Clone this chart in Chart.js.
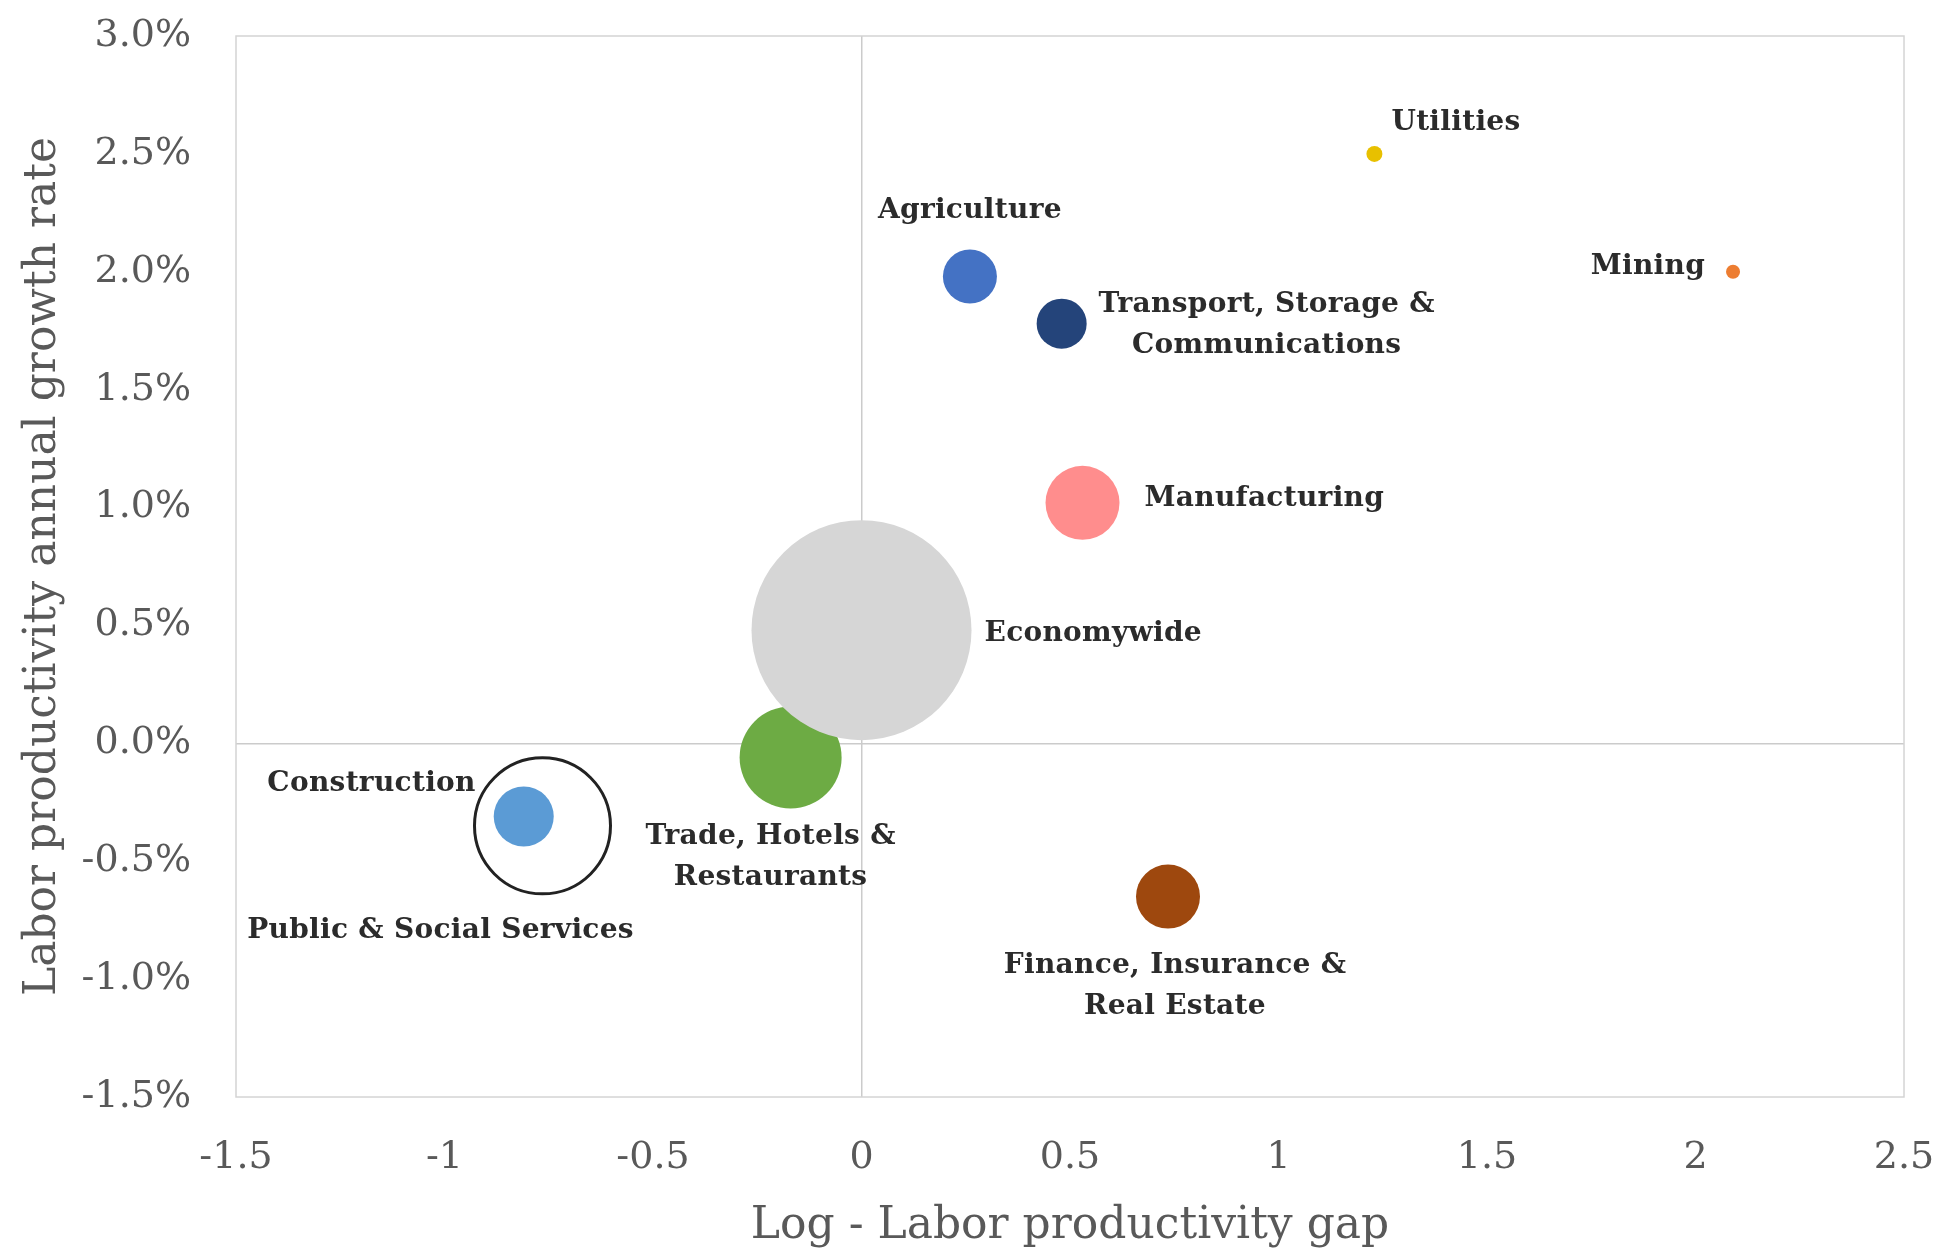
<!DOCTYPE html>
<html>
<head>
<meta charset="utf-8">
<title>Labor productivity by sector</title>
<script src="https://cdn.jsdelivr.net/npm/chart.js@4/dist/chart.umd.min.js"></script>
<style>
    body { margin: 0; background: #fff; }
    #wrap { width: 1937px; height: 1254px; position: relative; }
</style>
</head>
<body>
<div id="wrap"><canvas id="bubblechart"></canvas></div>
<script>
// sectors, drawn in this order (later ones sit on top)
let sectors = ["Agriculture", "Mining", "Utilities", "Manufacturing", "Trade, Hotels & Restaurants",
    "Economywide", "Transport, Storage & Communications", "Finance, Insurance & Real Estate",
    "Construction", "Public & Social Services"]
let gapValues = [0.26, 2.09, 1.23, 0.53, -0.17, 0.0, 0.48, 0.735, -0.81, -0.765]
let growthValues = [1.98, 2.0, 2.5, 1.02, -0.06, 0.48, 1.78, -0.65, -0.31, -0.35]
let bubbleSizes = [27, 7, 8, 37, 51, 110, 25, 32, 30, 68]

let xTicks = [-1.5, -1, -0.5, 0, 0.5, 1, 1.5, 2, 2.5]
let yTicks = [-1.5, -1.0, -0.5, 0.0, 0.5, 1.0, 1.5, 2.0, 2.5, 3.0]

let colors = ["#4472C4", "#ED7D31", "#E8C000", "#FF8D8D", "#6DAB44",
    "#D6D6D6", "#24447A", "#9E480E", "#5B9BD5", "rgba(0,0,0,0)"]

// label lines and where they sit relative to their bubble
let labelSpots = [
    {lines: ["Agriculture"], dx: 0, dy: -66, align: "center"},
    {lines: ["Mining"], dx: -28, dy: -5, align: "right"},
    {lines: ["Utilities"], dx: 17, dy: -31, align: "left"},
    {lines: ["Manufacturing"], dx: 62, dy: -4, align: "left"},
    {lines: ["Trade, Hotels &", "Restaurants"], dx: -20, dy: 79, align: "center"},
    {lines: ["Economywide"], dx: 123, dy: 4, align: "left"},
    {lines: ["Transport, Storage &", "Communications"], dx: 205, dy: -19, align: "center"},
    {lines: ["Finance, Insurance &", "Real Estate"], dx: 7, dy: 69, align: "center"},
    {lines: ["Construction"], dx: -48, dy: -33, align: "right"},
    {lines: ["Public & Social Services"], dx: -102, dy: 105, align: "center"}
]

let points = []
for (let i = 0; i < sectors.length; i++) {
    points.push({x: gapValues[i], y: growthValues[i], r: bubbleSizes[i]})
}

let tickColor = "#595959"
let zeroLine = "#CBCBCB"

const frameplugin = {
    id: "frame",
    beforeDatasetsDraw(chart) {
        let a = chart.chartArea
        let ctx = chart.ctx
        ctx.save()
        ctx.strokeStyle = "#D4D4D4"
        ctx.lineWidth = 1.5
        ctx.strokeRect(a.left, a.top, a.right - a.left, a.bottom - a.top)
        ctx.restore()
    }
}

const labelplugin = {
    id: "sectorlabels",
    afterDatasetsDraw(chart) {
        let ctx = chart.ctx
        let meta = chart.getDatasetMeta(0)
        ctx.save()
        ctx.font = "bold 28px 'DejaVu Serif'"
        ctx.letterSpacing = "0.3px"
        ctx.fillStyle = "#2B2B2B"
        ctx.textBaseline = "middle"
        for (let i = 0; i < labelSpots.length; i++) {
            let pt = meta.data[i]
            let spot = labelSpots[i]
            ctx.textAlign = spot.align
            for (let j = 0; j < spot.lines.length; j++) {
                ctx.fillText(spot.lines[j], pt.x + spot.dx, pt.y + spot.dy + j * 41)
            }
        }
        ctx.restore()
    }
}

const ctx = document.getElementById("bubblechart").getContext("2d")
const chart = new Chart(ctx, {
    type: "bubble",
    data: {
        datasets: [{
            label: "Sectors",
            data: points,
            backgroundColor: colors,
            borderColor: sectors.map(s => s == "Public & Social Services" ? "#222222" : "rgba(0,0,0,0)"),
            borderWidth: sectors.map(s => s == "Public & Social Services" ? 3 : 0),
            hoverBorderWidth: 0
        }]
    },
    options: {
        responsive: true,
        maintainAspectRatio: false,
        animation: false,
        layout: {autoPadding: false, padding: {top: 36, right: 33, left: 0, bottom: 0}},
        plugins: {legend: {display: false}, tooltip: {enabled: false}},
        scales: {
            x: {
                type: "linear",
                min: -1.5,
                max: 2.5,
                afterBuildTicks: (scale) => { scale.ticks = xTicks.map(v => ({value: v})) },
                afterFit: (scale) => {
                    scale.height = 157
                    scale.paddingLeft = 0
                    scale.paddingRight = 0
                },
                border: {display: false},
                grid: {drawTicks: false, color: (c) => c.tick && c.tick.value == 0 ? zeroLine : "rgba(0,0,0,0)", lineWidth: 1.5},
                ticks: {
                    padding: 38,
                    color: tickColor,
                    font: {family: "'DejaVu Serif'", size: 38},
                    callback: (v) => String(v)
                },
                title: {
                    display: true,
                    text: "Log - Labor productivity gap",
                    color: tickColor,
                    font: {family: "'DejaVu Serif'", size: 44},
                    padding: {top: 0, bottom: 1}
                }
            },
            y: {
                type: "linear",
                min: -1.5,
                max: 3.0,
                afterBuildTicks: (scale) => { scale.ticks = yTicks.map(v => ({value: v})) },
                afterFit: (scale) => {
                    scale.width = 236
                    scale.paddingTop = 0
                    scale.paddingBottom = 0
                },
                border: {display: false},
                grid: {drawTicks: false, color: (c) => c.tick && c.tick.value == 0 ? zeroLine : "rgba(0,0,0,0)", lineWidth: 1.5},
                ticks: {
                    padding: 45,
                    color: tickColor,
                    font: {family: "'DejaVu Serif'", size: 38},
                    callback: (v) => v.toFixed(1) + "%"
                },
                title: {
                    display: true,
                    text: "Labor productivity annual growth rate",
                    color: tickColor,
                    font: {family: "'DejaVu Serif'", size: 44},
                    padding: {top: 17, bottom: 0}
                }
            }
        }
    },
    plugins: [frameplugin, labelplugin]
})
</script>
</body>
</html>
